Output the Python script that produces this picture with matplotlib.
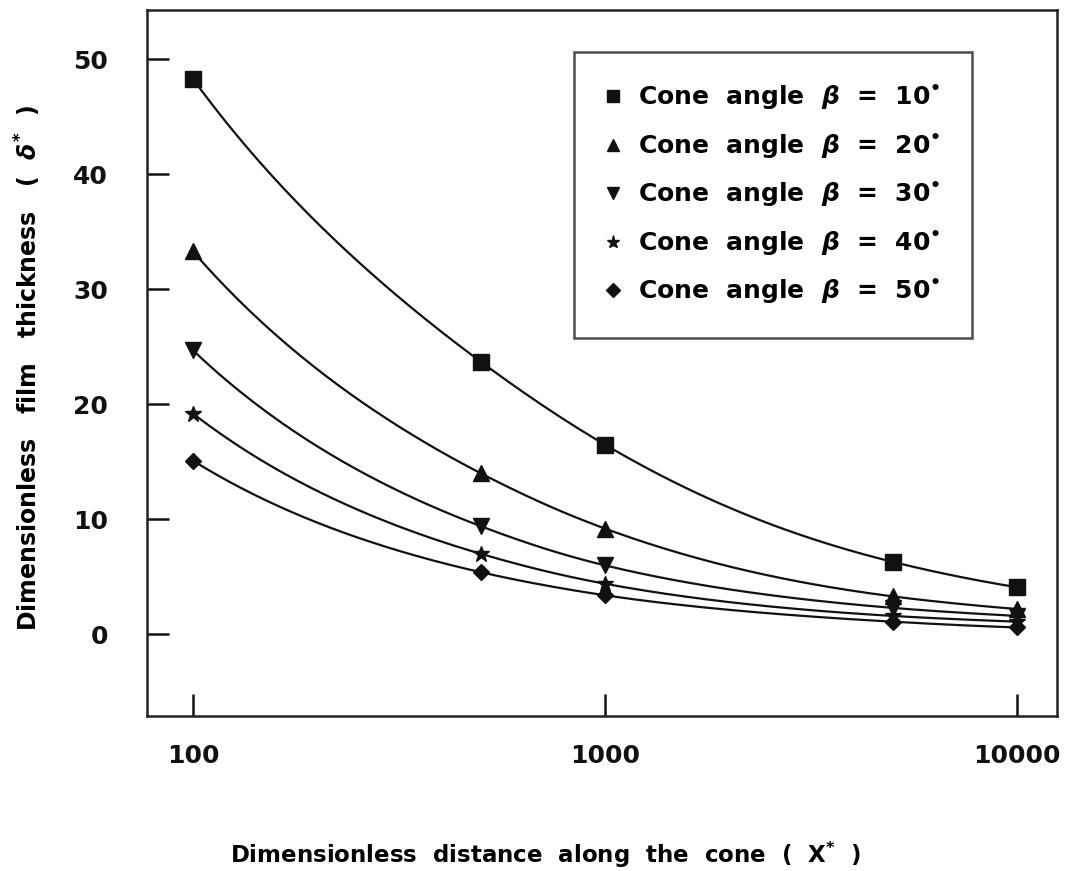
import numpy as np
import matplotlib
matplotlib.use("Agg")
import matplotlib.pyplot as plt

# data
x_dist = [100, 500, 1000, 5000, 10000]
delta_10 = [48.3, 23.7, 16.5, 6.3, 4.1]
delta_20 = [33.3, 14.0, 9.2, 3.3, 2.2]
delta_30 = [24.7, 9.4, 6.0, 2.3, 1.6]
delta_40 = [19.2, 7.0, 4.4, 1.6, 1.1]
delta_50 = [15.1, 5.4, 3.4, 1.1, 0.6]

labels = [r"Cone  angle  $\beta$  =  10$^{•}$",
          r"Cone  angle  $\beta$  =  20$^{•}$",
          r"Cone  angle  $\beta$  =  30$^{•}$",
          r"Cone  angle  $\beta$  =  40$^{•}$",
          r"Cone  angle  $\beta$  =  50$^{•}$"]
markers = ["s", "^", "v", "*", "D"]
msizes = [11, 11, 11, 12, 8.5]

plt.rcParams["font.family"] = ["DejaVu Sans"]
plt.rcParams["font.weight"] = "bold"
plt.rcParams["mathtext.fontset"] = "custom"
plt.rcParams["mathtext.rm"] = "DejaVu Sans:bold"
plt.rcParams["mathtext.it"] = "DejaVu Sans:italic:bold"
plt.rcParams["mathtext.bf"] = "DejaVu Sans:bold"


def smooth(xs, ys, n=200):
    """monotone cubic through the points, done in log-log space"""
    t = np.log10(xs)
    y = np.log(np.asarray(ys, dtype=float))
    h = np.diff(t)
    d = np.diff(y) / h
    m = np.zeros_like(y)
    m[0], m[-1] = d[0], d[-1]
    for i in range(1, len(y) - 1):
        if d[i - 1] * d[i] > 0:
            w1 = 2 * h[i] + h[i - 1]
            w2 = h[i] + 2 * h[i - 1]
            m[i] = (w1 + w2) / (w1 / d[i - 1] + w2 / d[i])
    tt = np.linspace(t[0], t[-1], n)
    out = np.empty_like(tt)
    for j, tv in enumerate(tt):
        i = min(np.searchsorted(t, tv, side="right") - 1, len(t) - 2)
        s = (tv - t[i]) / h[i]
        h00 = 2 * s**3 - 3 * s**2 + 1
        h10 = s**3 - 2 * s**2 + s
        h01 = -2 * s**3 + 3 * s**2
        h11 = s**3 - s**2
        out[j] = h00 * y[i] + h10 * h[i] * m[i] + h01 * y[i + 1] + h11 * h[i] * m[i + 1]
    return 10**tt, np.exp(out)


fig = plt.figure(figsize=(10.69, 8.71), dpi=100)
ax = fig.add_axes([0.1375, 0.178, 0.851, 0.8105])

series = [delta_10, delta_20, delta_30, delta_40, delta_50]
for ys, mk, ms, lab in zip(series, markers, msizes, labels):
    sx, sy = smooth(x_dist, ys)
    ax.plot(sx, sy, color="#111111", lw=1.6)
    ax.plot(x_dist, ys, linestyle="none", marker=mk, ms=ms, color="#111111",
            label=lab)

ax.set_xscale("log")
ax.set_xlim(77.3, 12500)
ax.set_ylim(-7.1, 54.3)
ax.set_xticks([100, 1000, 10000])
ax.set_xticklabels(["100", "1000", "10000"])
ax.minorticks_off()
ax.set_yticks([0, 10, 20, 30, 40, 50])

for sp in ax.spines.values():
    sp.set_linewidth(1.8)
    sp.set_color("#222222")

ax.tick_params(axis="both", direction="in", length=16, width=1.8,
               labelsize=18, colors="#111111")
ax.tick_params(axis="x", pad=20)
ax.tick_params(axis="y", pad=28)

fig.text(28 / 1069, 1 - 368 / 871,
         r"Dimensionless   film   thickness   (  $\delta^{*}$  )",
         fontsize=17, rotation=90, ha="center", va="center")
fig.text(545 / 1069, 1 - 855 / 871,
         r"Dimensionless  distance  along  the  cone  (  X$^{*}$  )",
         fontsize=16.5, ha="center", va="center")

leg = ax.legend(loc="upper right", bbox_to_anchor=(0.9066, 0.9405),
                fontsize=18, frameon=True, fancybox=False, handlelength=0.6,
                handletextpad=0.7, labelspacing=0.78, borderpad=1.25,
                borderaxespad=0, markerscale=0.8)
leg.get_frame().set_edgecolor("#222222")
leg.get_frame().set_linewidth(1.8)

fig.savefig("out.png", dpi=100)
